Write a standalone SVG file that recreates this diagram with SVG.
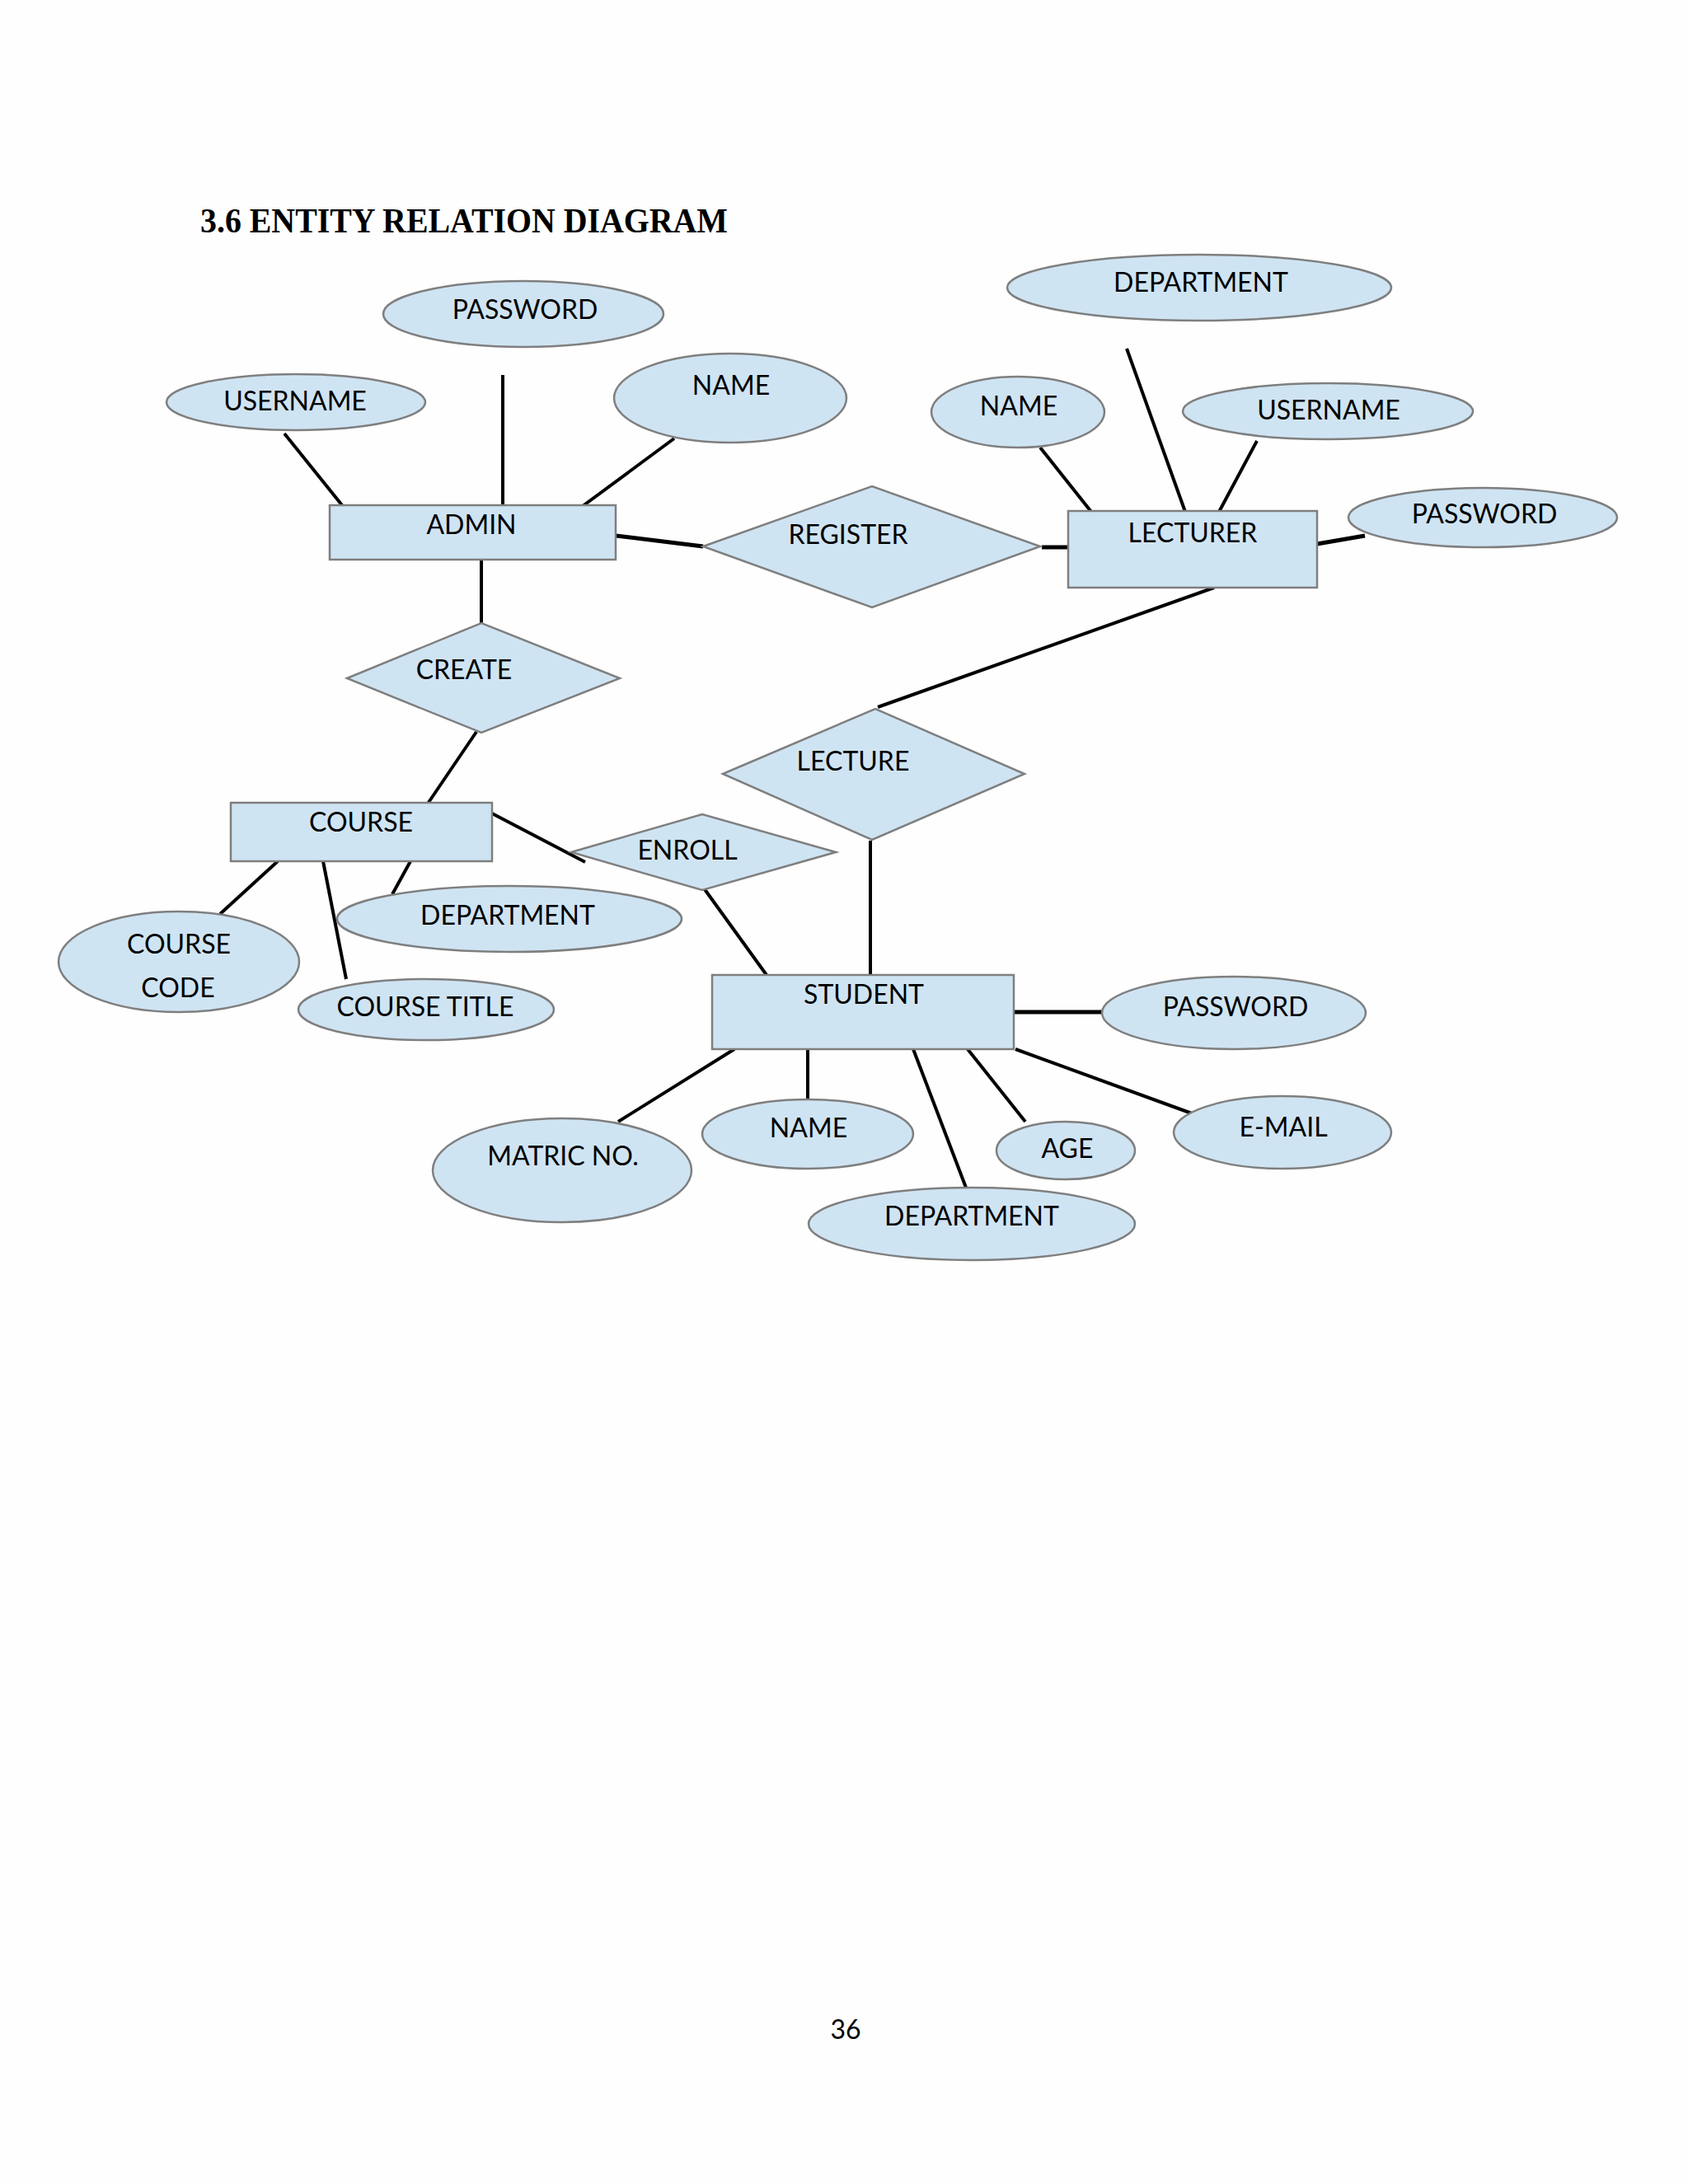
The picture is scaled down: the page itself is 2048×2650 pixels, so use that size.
<svg xmlns="http://www.w3.org/2000/svg" width="2048" height="2650" viewBox="0 0 2048 2650">
<style>
.e{fill:#cfe4f3;stroke:#7f7f7f;stroke-width:2.5}
.t{font-family:Lato,"Open Sans",sans-serif;font-size:32px;fill:#000;text-anchor:middle}
.c line{stroke:#000;stroke-width:4;stroke-linecap:butt}
.title{font-family:"Liberation Serif",serif;font-weight:bold;font-size:42px;fill:#000}
</style>
<rect width="2048" height="2650" fill="#fefefe"/>
<text class="title" x="243" y="282" textLength="640" lengthAdjust="spacingAndGlyphs">3.6 ENTITY RELATION DIAGRAM</text>
<g class="c" id="connectors">
<line x1="345" y1="526" x2="415" y2="613"/>
<line x1="610" y1="455" x2="610" y2="613"/>
<line x1="818" y1="532" x2="707" y2="614"/>
<line x1="747" y1="650" x2="853" y2="663" style="stroke-width:5"/>
<line x1="584" y1="679" x2="584" y2="756"/>
<line x1="1264" y1="664" x2="1296" y2="664" style="stroke-width:5"/>
<line x1="1262" y1="543" x2="1324" y2="621"/>
<line x1="1367" y1="423" x2="1438" y2="621"/>
<line x1="1525" y1="535" x2="1479" y2="621"/>
<line x1="1598" y1="660" x2="1656" y2="650" style="stroke-width:5"/>
<line x1="1473" y1="713" x2="1065" y2="858"/>
<line x1="578" y1="888" x2="519" y2="975"/>
<line x1="597" y1="987" x2="710" y2="1046"/>
<line x1="852" y1="1075" x2="930" y2="1183"/>
<line x1="337" y1="1045" x2="267" y2="1109"/>
<line x1="392" y1="1045" x2="420" y2="1188"/>
<line x1="498" y1="1045" x2="476" y2="1085"/>
<line x1="1056" y1="1020" x2="1056" y2="1183"/>
<line x1="1230" y1="1228" x2="1337" y2="1228" style="stroke-width:5"/>
<line x1="891" y1="1273" x2="750" y2="1361"/>
<line x1="980" y1="1273" x2="980" y2="1334"/>
<line x1="1108" y1="1273" x2="1172" y2="1441"/>
<line x1="1174" y1="1273" x2="1244" y2="1361"/>
<line x1="1232" y1="1273" x2="1446" y2="1351"/>
</g>
<g id="admin-password"><ellipse class="e" cx="635" cy="381" rx="170" ry="40"/><text class="t" x="637" y="387">PASSWORD</text></g>
<g id="admin-username"><ellipse class="e" cx="359" cy="488" rx="157" ry="34"/><text class="t" x="358" y="498">USERNAME</text></g>
<g id="admin-name"><ellipse class="e" cx="886" cy="483" rx="141" ry="54"/><text class="t" x="887" y="479">NAME</text></g>
<g id="admin"><rect class="e" x="400" y="613" width="347" height="66"/><text class="t" x="572" y="648">ADMIN</text></g>
<g id="register"><polygon class="e" points="853,663 1058,590 1262,663 1058,737"/><text class="t" x="1029" y="660">REGISTER</text></g>
<g id="lect-department"><ellipse class="e" cx="1455" cy="349" rx="233" ry="40"/><text class="t" x="1457" y="354">DEPARTMENT</text></g>
<g id="lect-name"><ellipse class="e" cx="1235" cy="500" rx="105" ry="43"/><text class="t" x="1236" y="504">NAME</text></g>
<g id="lect-username"><ellipse class="e" cx="1611" cy="499" rx="176" ry="34"/><text class="t" x="1612" y="509">USERNAME</text></g>
<g id="lect-password"><ellipse class="e" cx="1799" cy="628" rx="163" ry="36"/><text class="t" x="1801" y="635">PASSWORD</text></g>
<g id="lecturer"><rect class="e" x="1296" y="620" width="302" height="93"/><text class="t" x="1447" y="658">LECTURER</text></g>
<g id="create"><polygon class="e" points="421,823 584,756 752,823 584,889"/><text class="t" x="563" y="824">CREATE</text></g>
<g id="lecture"><polygon class="e" points="877,939 1062,860 1243,939 1058,1019"/><text class="t" x="1035" y="935">LECTURE</text></g>
<g id="course"><rect class="e" x="280" y="974" width="317" height="71"/><text class="t" x="438" y="1009">COURSE</text></g>
<g id="enroll"><polygon class="e" points="693,1034 852,988 1014,1034 852,1080"/><text class="t" x="834" y="1043">ENROLL</text></g>
<g id="course-department"><ellipse class="e" cx="618" cy="1115" rx="209" ry="40"/><text class="t" x="616" y="1122">DEPARTMENT</text></g>
<g id="course-code"><ellipse class="e" cx="217" cy="1167" rx="146" ry="61"/><text class="t" x="217" y="1157">COURSE</text><text class="t" x="216" y="1210">CODE</text></g>
<g id="course-title"><ellipse class="e" cx="517" cy="1225" rx="155" ry="37"/><text class="t" x="516" y="1233">COURSE TITLE</text></g>
<g id="student"><rect class="e" x="864" y="1183" width="366" height="90"/><text class="t" x="1048" y="1218">STUDENT</text></g>
<g id="student-password"><ellipse class="e" cx="1497" cy="1229" rx="160" ry="44"/><text class="t" x="1499" y="1233">PASSWORD</text></g>
<g id="matric-no"><ellipse class="e" cx="682" cy="1420" rx="157" ry="63"/><text class="t" x="683" y="1414">MATRIC NO.</text></g>
<g id="student-name"><ellipse class="e" cx="980" cy="1376" rx="128" ry="42"/><text class="t" x="981" y="1380">NAME</text></g>
<g id="student-department"><ellipse class="e" cx="1179" cy="1485" rx="198" ry="44"/><text class="t" x="1179" y="1487">DEPARTMENT</text></g>
<g id="age"><ellipse class="e" cx="1293" cy="1396" rx="84" ry="35"/><text class="t" x="1295" y="1405">AGE</text></g>
<g id="email"><ellipse class="e" cx="1556" cy="1374" rx="132" ry="44"/><text class="t" x="1557" y="1379">E-MAIL</text></g>
<text class="t" x="1026" y="2474">36</text>
</svg>
